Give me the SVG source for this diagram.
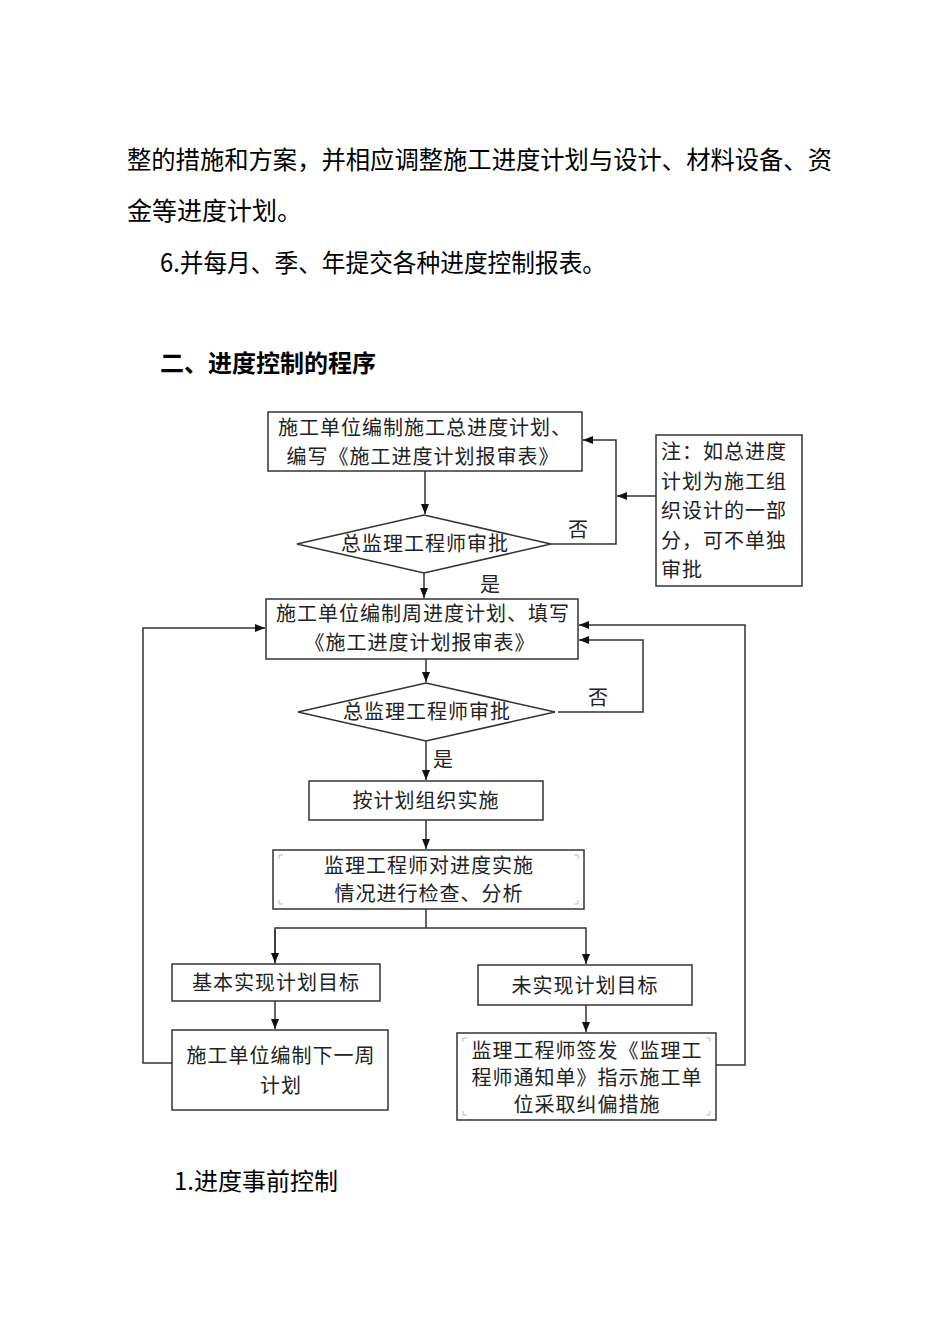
<svg xmlns="http://www.w3.org/2000/svg" width="950" height="1344" viewBox="0 0 950 1344">
<style>
.body{font-family:"Noto Sans CJK SC","Noto Sans",sans-serif;font-size:25px;fill:#000}
.h{font-family:"Noto Sans CJK SC","Noto Sans",sans-serif;font-size:24px;font-weight:bold;fill:#000}
.t{font-family:"Noto Sans CJK SC",sans-serif;font-size:20px;fill:#222;letter-spacing:1px}
.m{text-anchor:middle}
.box{fill:#fff;stroke:#333;stroke-width:1.5}
.ln{fill:none;stroke:#333;stroke-width:1.5}
.cm{fill:none;stroke:#bbb;stroke-width:1}
</style>
<defs>
<marker id="ar" viewBox="0 0 10 8" refX="10" refY="4" markerWidth="10" markerHeight="8" markerUnits="userSpaceOnUse" orient="auto">
<path d="M0,0 L10,4 L0,8 Z" fill="#111"/>
</marker>
</defs>
<rect width="950" height="1344" fill="#fff"/>

<text class="body" x="127" y="169" textLength="705" lengthAdjust="spacingAndGlyphs">整的措施和方案，并相应调整施工进度计划与设计、材料设备、资</text>
<text class="body" x="127" y="220">金等进度计划。</text>
<text class="body" x="160" y="272" textLength="446" lengthAdjust="spacingAndGlyphs">6.并每月、季、年提交各种进度控制报表。</text>
<text class="h" x="160" y="372">二、进度控制的程序</text>
<text class="body" x="174" y="1190" style="font-size:24px">1.进度事前控制</text>

<g id="connectors">
<line class="ln" x1="425" y1="471" x2="425" y2="514" marker-end="url(#ar)"/>
<polyline class="ln" points="551,544 616,544 616,440 583,440" marker-end="url(#ar)"/>
<line class="ln" x1="656" y1="496" x2="617" y2="496" marker-end="url(#ar)"/>
<line class="ln" x1="424" y1="573" x2="424" y2="598" marker-end="url(#ar)"/>
<line class="ln" x1="426" y1="659" x2="426" y2="682" marker-end="url(#ar)"/>
<polyline class="ln" points="558,712 643,712 643,640 579,640" marker-end="url(#ar)"/>
<polyline class="ln" points="716,1065 745,1065 745,625 579,625" marker-end="url(#ar)"/>
<polyline class="ln" points="172,1063 143,1063 143,628 265,628" marker-end="url(#ar)"/>
<line class="ln" x1="426" y1="741" x2="426" y2="780" marker-end="url(#ar)"/>
<line class="ln" x1="426" y1="820" x2="426" y2="849" marker-end="url(#ar)"/>
<polyline class="ln" points="426,909 426,928"/>
<polyline class="ln" points="275,963 275,928 586,928 586,964" marker-end="url(#ar)"/>
<line class="ln" x1="275" y1="930" x2="275" y2="963" marker-end="url(#ar)"/>
<line class="ln" x1="275" y1="1001" x2="275" y2="1029" marker-end="url(#ar)"/>
<line class="ln" x1="586" y1="1005" x2="586" y2="1032" marker-end="url(#ar)"/>
<text class="t" x="568" y="537">否</text>
<text class="t" x="480" y="592">是</text>
<text class="t" x="588" y="705">否</text>
<text class="t" x="433" y="767">是</text>
</g>

<g id="box1">
<rect class="box" x="268" y="412" width="314" height="59"/>
<text class="t m" x="425" y="435">施工单位编制施工总进度计划、</text>
<text class="t m" x="423" y="464">编写《施工进度计划报审表》</text>
</g>
<g id="dec1">
<polygon class="box" points="297,544 424,515 551,544 424,573"/>
<text class="t m" x="425" y="551">总监理工程师审批</text>
</g>
<g id="note">
<rect class="box" x="656" y="435" width="146" height="151"/>
<text class="t" x="661" y="459">注：如总进度</text>
<text class="t" x="661" y="489">计划为施工组</text>
<text class="t" x="661" y="518">织设计的一部</text>
<text class="t" x="661" y="548">分，可不单独</text>
<text class="t" x="661" y="577">审批</text>
</g>
<g id="box2">
<rect class="box" x="266" y="599" width="312" height="60"/>
<text class="t m" x="423" y="621">施工单位编制周进度计划、填写</text>
<text class="t m" x="420" y="650">《施工进度计划报审表》</text>
</g>
<g id="dec2">
<polygon class="box" points="298,712 426,683 555,712 426,741"/>
<text class="t m" x="427" y="719">总监理工程师审批</text>
</g>
<g id="box3">
<rect class="box" x="309" y="781" width="234" height="39"/>
<text class="t m" x="426" y="808">按计划组织实施</text>
</g>
<g id="box4">
<rect class="box" x="273" y="850" width="311" height="59"/>
<path class="cm" d="M279,859 v-4 h4 M578,859 v-4 h-4 M279,900 v4 h4 M578,900 v4 h-4"/>
<text class="t m" x="429" y="873">监理工程师对进度实施</text>
<text class="t m" x="429" y="901">情况进行检查、分析</text>
</g>
<g id="box5">
<rect class="box" x="172" y="964" width="208" height="37"/>
<text class="t m" x="276" y="990">基本实现计划目标</text>
</g>
<g id="box6">
<rect class="box" x="478" y="965" width="214" height="40"/>
<text class="t m" x="585" y="993">未实现计划目标</text>
</g>
<g id="box7">
<rect class="box" x="172" y="1030" width="216" height="80"/>
<text class="t m" x="281" y="1063">施工单位编制下一周</text>
<text class="t m" x="281" y="1093">计划</text>
</g>
<g id="box8">
<rect class="box" x="457" y="1033" width="259" height="87"/>
<path class="cm" d="M463,1042 v-4 h4 M710,1042 v-4 h-4 M463,1111 v4 h4 M710,1111 v4 h-4"/>
<text class="t m" x="587" y="1058">监理工程师签发《监理工</text>
<text class="t m" x="587" y="1085">程师通知单》指示施工单</text>
<text class="t m" x="587" y="1112">位采取纠偏措施</text>
</g>
</svg>
